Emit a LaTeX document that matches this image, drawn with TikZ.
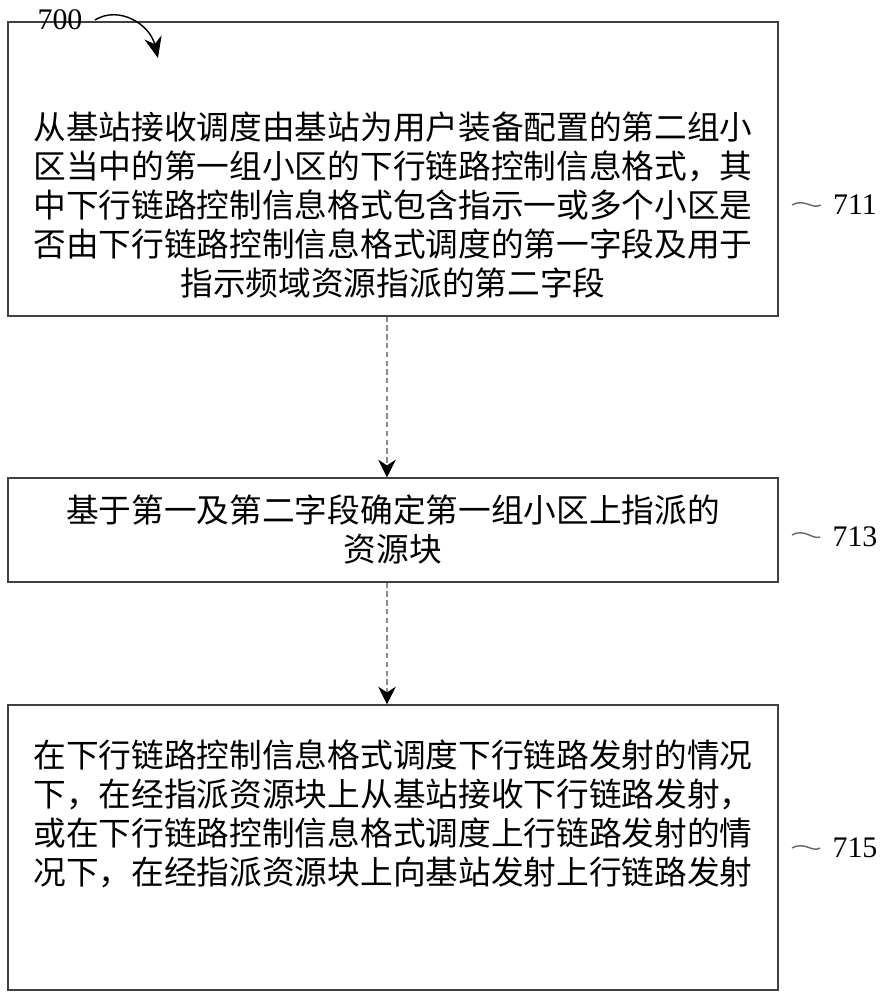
\documentclass[tikz,border=0pt]{standalone}
\usepackage{fontspec}
\setmainfont{Liberation Serif}
\newfontfamily\cjk{Noto Sans CJK SC}
\usetikzlibrary{arrows.meta}
\tikzset{stepbox/.style={draw=black!75, thin, minimum width=7.7cm, inner sep=0pt},
  steptext/.style={font=\cjk\fontsize{9.3}{11.1}\selectfont},
  flow/.style={draw=black!45, dash pattern=on 1.5pt off 1pt, -{Stealth[black,length=5pt,width=5pt]}},
  tag/.style={font=\fontsize{8.5}{10}\selectfont},
  tagline/.style={draw=black!60, thin}}
\begin{document}
\begin{tikzpicture}
\useasboundingbox (0,0) rectangle (8.96,10);
% boxes
\node (s711) [stepbox, minimum height=2.94cm] at (3.93,8.31) {};
\node (s713) [stepbox, minimum height=1.04cm] at (3.93,4.70) {};
\node (s715) [stepbox, minimum height=2.85cm] at (3.93,1.525) {};
\node [steptext, align=center] at (3.93,7.95) {从基站接收调度由基站为用户装备配置的第二组小\\区当中的第一组小区的下行链路控制信息格式，其\\中下行链路控制信息格式包含指示一或多个小区是\\否由下行链路控制信息格式调度的第一字段及用于\\指示频域资源指派的第二字段};
\node [steptext, align=center] at (s713) {基于第一及第二字段确定第一组小区上指派的\\资源块};
\node [steptext, align=left] at (3.93,1.86) {在下行链路控制信息格式调度下行链路发射的情况\\下，在经指派资源块上从基站接收下行链路发射，\\或在下行链路控制信息格式调度上行链路发射的情\\况下，在经指派资源块上向基站发射上行链路发射};
% arrows
\draw[flow] (s711.south -| 3.87,0) -- (s713.north -| 3.87,0);
\draw[flow] (s713.south -| 3.87,0) -- (s715.north -| 3.87,0);
% labels
\node (n700) [tag] at (0.6,9.8) {700};
\coordinate (a700) at (1.58,9.42);
\draw[thin, -{Stealth[length=6pt,width=5pt]}] (n700.east) .. controls (1.2,9.95) and (1.5,9.75) .. (a700);
\node (n711) [tag] at (8.55,7.95) {711};
\node (n713) [tag] at (8.55,4.63) {713};
\node (n715) [tag] at (8.55,1.52) {715};
\draw[tagline] (7.92,7.95) .. controls (8.05,8.02) and (8.12,7.9) .. (n711.west);
\draw[tagline] (7.92,4.65) .. controls (8.05,4.72) and (8.12,4.6) .. (n713.west);
\draw[tagline] (7.92,1.52) .. controls (8.05,1.59) and (8.12,1.47) .. (n715.west);
\end{tikzpicture}
\end{document}
